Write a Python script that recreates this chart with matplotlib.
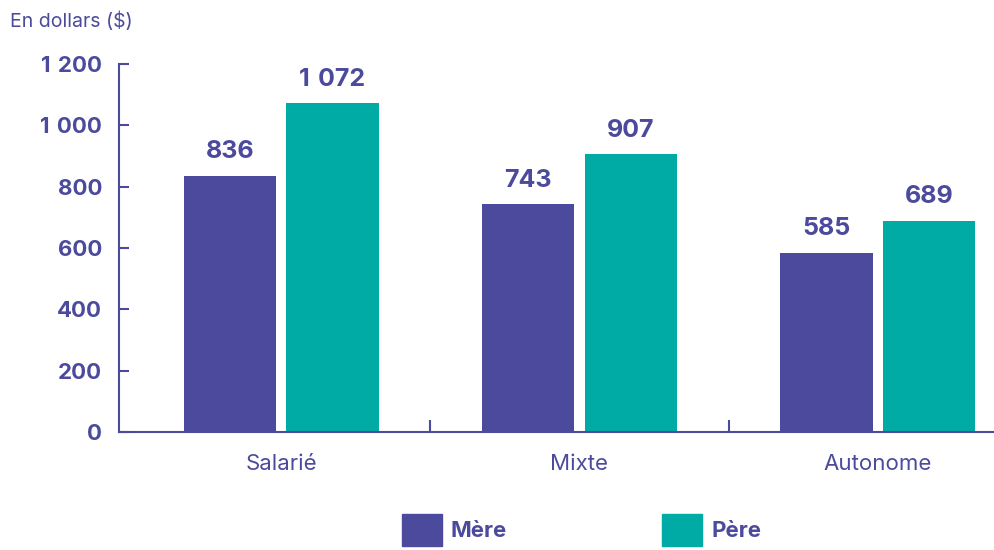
import matplotlib.pyplot as plt
import matplotlib.patches as mpatches
import numpy as np

categories = ["Salarié", "Mixte", "Autonome"]
mere = [836, 743, 585]
pere = [1072, 907, 689]
yticks = [0, 200, 400, 600, 800, 1000, 1200]
ylabels = ["0", "200", "400", "600", "800", "1\u2004000", "1\u2004200"]

purple = "#4b4a9c"
teal = "#00aba6"

plt.rcParams['font.family'] = ['Inter', 'DejaVu Sans']

fig = plt.figure(figsize=(9.94, 5.5), dpi=100)
ax = fig.add_axes([0.1197, 0.2145, 0.8803, 0.669])

x = np.arange(len(categories))
w = 0.31
ax.bar(x - 0.172, mere, w, color=purple)
ax.bar(x + 0.172, pere, w, color=teal)

def fmt(v):
    return f"{v:,}".replace(",", "\u2004")

for xi, m, p in zip(x, mere, pere):
    ax.text(xi - 0.172, m + 40, fmt(m), ha="center", va="bottom",
            fontsize=18, fontweight="bold", color=purple, clip_on=False)
    ax.text(xi + 0.172, p + 40, fmt(p), ha="center", va="bottom",
            fontsize=18, fontweight="bold", color=purple, clip_on=False)

ax.set_xlim(-0.544, 2.39)
ax.set_ylim(0, 1200)
ax.set_yticks(yticks)
ax.set_yticklabels(ylabels, fontsize=16, fontweight="bold", color=purple)
ax.set_xticks(x)
ax.set_xticklabels(categories, fontsize=16, color=purple)
ax.tick_params(axis="x", length=0, pad=16)
ax.tick_params(axis="y", direction="in", length=7, width=1.5, color=purple, pad=12)
ax.set_xticks([0.5, 1.5], minor=True)
ax.tick_params(axis="x", which="minor", direction="in", length=9, width=1.5, color=purple)

for s in ["top", "right"]:
    ax.spines[s].set_visible(False)
for s in ["left", "bottom"]:
    ax.spines[s].set_color(purple)
    ax.spines[s].set_linewidth(1.5)

fig.text(0.01, 0.962, "En dollars ($)", fontsize=14, color=purple, va="center")

handles = [mpatches.Patch(color=purple, label="Mère"),
           mpatches.Patch(color=teal, label="Père")]
leg = fig.legend(handles=handles, loc="center", bbox_to_anchor=(0.585, 0.036),
                 ncol=2, frameon=False, handlelength=1.8, handleheight=1.8,
                 handletextpad=0.4, columnspacing=7.0,
                 prop={"size": 16, "weight": "bold"})
for t in leg.get_texts():
    t.set_color(purple)

fig.savefig("out.png", dpi=100)
